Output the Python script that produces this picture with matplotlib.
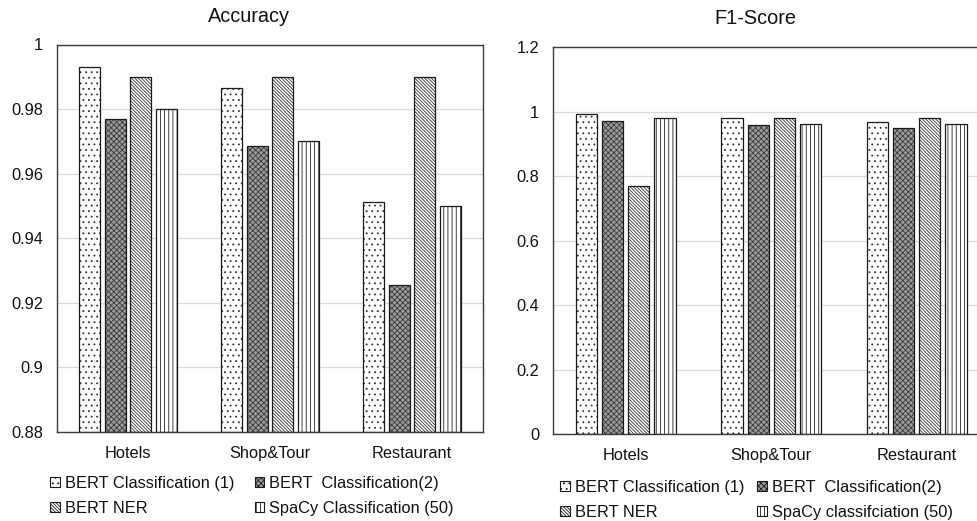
import numpy as np
import matplotlib
matplotlib.use('Agg')
import matplotlib.pyplot as plt
from matplotlib.patches import Patch

plt.rcParams['font.family'] = ['Liberation Sans', 'DejaVu Sans']
plt.rcParams['hatch.linewidth'] = 0.6

categories = ['Hotels', 'Shop&Tour', 'Restaurant']

# accuracy per method
acc_bert1 = [0.993, 0.9865, 0.9513]
acc_bert2 = [0.977, 0.9685, 0.9254]
acc_ner = [0.990, 0.990, 0.990]
acc_spacy = [0.980, 0.970, 0.950]

# f1-score per method
f1_bert1 = [0.991, 0.980, 0.967]
f1_bert2 = [0.971, 0.957, 0.948]
f1_ner = [0.768, 0.980, 0.980]
f1_spacy = [0.980, 0.960, 0.960]

acc_labels = ['BERT Classification (1)', 'BERT  Classification(2)',
              'BERT NER', 'SpaCy Classification (50)']
f1_labels = ['BERT Classification (1)', 'BERT  Classification(2)',
             'BERT NER', 'SpaCy classifciation (50)']

# (facecolor, hatch color, hatch) for each series
styles = [
    ('white', '#333333', '...'),
    ('#9c9c9c', '#3a3a3a', 'xxxxxx'),
    ('white', '#333333', '\\' * 10),
    ('white', '#222222', '||||'),
]

W, H = 978, 521
fig = plt.figure(figsize=(W / 100, H / 100), dpi=100)


def px_axes(x0, y0, x1, y1):
    return fig.add_axes([x0 / W, 1 - y1 / H, (x1 - x0) / W, (y1 - y0) / H])


def draw_bars(ax, series, ymin, ymax, yticks, ticklabels):
    x = np.arange(len(categories))
    width = 0.145
    gap = 0.18
    for i, vals in enumerate(series):
        fc, hc, hatch = styles[i]
        pos = x + (i - 1.5) * gap
        ax.bar(pos, np.array(vals) - ymin, width, bottom=ymin, color=fc,
               edgecolor=hc, hatch=hatch, linewidth=0, zorder=2)
        ax.bar(pos, np.array(vals) - ymin, width, bottom=ymin, fill=False,
               edgecolor='#1a1a1a', linewidth=0.9, zorder=3)
    ax.set_xlim(-0.5, len(categories) - 0.5)
    ax.set_ylim(ymin, ymax)
    ax.set_yticks(yticks)
    ax.set_yticklabels(ticklabels)
    ax.set_xticks(x)
    ax.set_xticklabels(categories)
    ax.yaxis.grid(True, color='#d9d9d9', linewidth=0.9, zorder=0)
    ax.set_axisbelow(True)
    ax.tick_params(axis='both', length=0, labelsize=11.8, colors='#111111')
    ax.tick_params(axis='y', pad=10)
    ax.tick_params(axis='x', pad=10)
    for s in ax.spines.values():
        s.set_color('#3a3a3a')
        s.set_linewidth(1.0)


def legend_handles():
    return [Patch(facecolor=fc, edgecolor='#1a1a1a', hatch=h, linewidth=0.8)
            for fc, hc, h in styles]


# left: accuracy
ax1 = px_axes(57, 44.5, 483, 432)
draw_bars(ax1, [acc_bert1, acc_bert2, acc_ner, acc_spacy], 0.88, 1.0,
          [0.88, 0.9, 0.92, 0.94, 0.96, 0.98, 1.0],
          ['0.88', '0.9', '0.92', '0.94', '0.96', '0.98', '1'])

# right: f1-score (extends past figure edge like the original)
ax2 = px_axes(553, 47, 989.5, 434.3)
draw_bars(ax2, [f1_bert1, f1_bert2, f1_ner, f1_spacy], 0.0, 1.2,
          [0, 0.2, 0.4, 0.6, 0.8, 1.0, 1.2],
          ['0', '0.2', '0.4', '0.6', '0.8', '1', '1.2'])

fig.text(249 / W, 1 - 17 / H, 'Accuracy', ha='center', va='center',
         fontsize=14.3, color='#111111')
fig.text(755 / W, 1 - 19 / H, 'F1-Score', ha='center', va='center',
         fontsize=14.3, color='#111111')

order = [0, 2, 1, 3]
hs = legend_handles()
for labels, x0, y0, cs in [(acc_labels, 50, 476, 1.25), (f1_labels, 560, 480, 0.8)]:
    fig.legend([hs[k] for k in order], [labels[k] for k in order],
               loc='upper left', bbox_to_anchor=(x0 / W, 1 - y0 / H),
               ncol=2, frameon=False, fontsize=11.8, borderpad=0,
               borderaxespad=0, handlelength=0.6, handleheight=0.6,
               handletextpad=0.3, columnspacing=cs, labelspacing=0.6,
               labelcolor='#111111')

fig.savefig('out.png', dpi=100)
